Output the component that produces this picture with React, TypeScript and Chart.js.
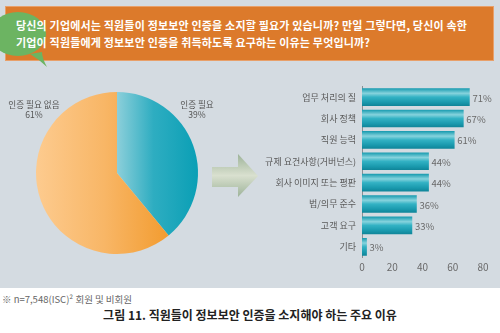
import React, { useEffect, useRef } from "react";
import { Chart, registerables } from "chart.js";
Chart.register(...registerables);

const questionLines = [
  "당신의 기업에서는 직원들이 정보보안 인증을 소지할 필요가 있습니까? 만일 그렇다면, 당신이 속한",
  "기업이 직원들에게 정보보안 인증을 취득하도록 요구하는 이유는 무엇입니까?",
];
const pieLabels = ["인증 필요", "인증 필요 없음"];
const pieValues = [39, 61];
const barCategories = [
  "업무 처리의 질",
  "회사 정책",
  "직원 능력",
  "규제 요건사항(거버넌스)",
  "회사 이미지 또는 평판",
  "법/의무 준수",
  "고객 요구",
  "기타",
];
const barValues = [71, 67, 61, 44, 44, 36, 33, 3];
const xTickMin = 0;
const xTickMax = 80;
const xTickStep = 20;
const footnote = "※ n=7,548(ISC)² 회원 및 비회원";
const caption = "그림 11. 직원들이 정보보안 인증을 소지해야 하는 주요 이유";

const FONT = '"Noto Sans CJK KR", "Noto Sans", sans-serif';
const BG = "#d4dbe1";

function fin(...v: number[]) {
  return v.every((x) => typeof x === "number" && isFinite(x));
}

function PieChart() {
  const ref = useRef<HTMLCanvasElement>(null);
  useEffect(() => {
    const canvas = ref.current!;
    const chart = new Chart(canvas, {
      type: "pie",
      data: {
        labels: pieLabels,
        datasets: [
          {
            data: pieValues,
            borderWidth: 0,
            backgroundColor: (c: any) => {
              const ch = c.chart;
              const area = ch.chartArea;
              if (!area || !fin(area.left, area.right) || area.right <= area.left)
                return c.dataIndex === 0 ? "#2aa9bd" : "#f6ad55";
              const cx = (area.left + area.right) / 2;
              if (c.dataIndex === 0) {
                const g = ch.ctx.createLinearGradient(cx, 0, area.right, 0);
                g.addColorStop(0, "#8ccfda");
                g.addColorStop(0.45, "#2eadc1");
                g.addColorStop(1, "#0a9fb5");
                return g;
              }
              const g = ch.ctx.createLinearGradient(area.left, 0, area.right - 25, 0);
              g.addColorStop(0, "#fdcb8f");
              g.addColorStop(0.5, "#f8b666");
              g.addColorStop(1, "#f29a2c");
              return g;
            },
          },
        ],
      },
      options: {
        animation: false,
        responsive: false,
        events: [],
        layout: { padding: { left: 36, top: 22, right: 52, bottom: 26 } },
        plugins: { legend: { display: false }, tooltip: { enabled: false } },
      },
    });
    return () => chart.destroy();
  }, []);
  return (
    <canvas
      ref={ref}
      width={250}
      height={210}
      style={{ position: "absolute", left: 0, top: 70, width: 250, height: 210 }}
    />
  );
}

const valueLabelPlugin = {
  id: "valueLabels",
  afterDatasetsDraw(chart: any) {
    const ctx = chart.ctx;
    const meta = chart.getDatasetMeta(0);
    ctx.save();
    ctx.font = `9.5px ${FONT}`;
    ctx.fillStyle = "#6a6a6a";
    ctx.textAlign = "left";
    ctx.textBaseline = "middle";
    meta.data.forEach((bar: any, i: number) => {
      ctx.fillText(`${barValues[i]}%`, bar.x + 3, bar.y + 1);
    });
    ctx.restore();
  },
};

function BarChart() {
  const ref = useRef<HTMLCanvasElement>(null);
  useEffect(() => {
    const canvas = ref.current!;
    const chart = new Chart(canvas, {
      type: "bar",
      data: {
        labels: barCategories,
        datasets: [
          {
            data: barValues,
            borderWidth: 0,
            barThickness: 17,
            backgroundColor: (c: any) => {
              const ch = c.chart;
              const y = ch.scales && ch.scales.y;
              if (!y || c.dataIndex === undefined) return "#2aa9bb";
              const py = y.getPixelForValue(c.dataIndex);
              if (!fin(py)) return "#2aa9bb";
              const g = ch.ctx.createLinearGradient(0, py - 8.5, 0, py + 8.5);
              g.addColorStop(0, "#1c9db1");
              g.addColorStop(0.28, "#86d3dd");
              g.addColorStop(0.5, "#33b2c4");
              g.addColorStop(0.8, "#1a9aae");
              g.addColorStop(1, "#10869a");
              return g;
            },
          },
        ],
      },
      options: {
        animation: false,
        responsive: false,
        events: [],
        indexAxis: "y",
        layout: { padding: { top: 3, right: 17, left: 0, bottom: 0 } },
        plugins: { legend: { display: false }, tooltip: { enabled: false } },
        scales: {
          x: {
            min: xTickMin,
            max: xTickMax,
            ticks: {
              stepSize: xTickStep,
              padding: 4,
              color: "#6a6a6a",
              font: { family: FONT, size: 10 },
            },
            grid: { display: false, drawTicks: false },
            border: { display: false },
            afterFit: (s: any) => {
              s.height = 22.5;
            },
          },
          y: {
            ticks: {
              padding: 6,
              color: "#5a5a5a",
              font: { family: FONT, size: 9 },
            },
            grid: { display: false, drawTicks: false },
            border: { display: true, color: "#8a8f94", width: 1 },
            afterFit: (s: any) => {
              s.width = 112;
            },
          },
        },
      },
      plugins: [valueLabelPlugin],
    });
    return () => chart.destroy();
  }, []);
  return (
    <canvas
      ref={ref}
      width={250}
      height={205}
      style={{ position: "absolute", left: 250, top: 75, width: 250, height: 205 }}
    />
  );
}

export default function App() {
  return (
    <div
      style={{
        position: "fixed",
        left: 0,
        top: 0,
        width: 500,
        height: 333,
        background: "#ffffff",
        overflow: "hidden",
        fontFamily: FONT,
      }}
    >
      <div style={{ position: "absolute", left: 0, top: 0, width: 500, height: 288, background: BG }} />
      <div
        style={{
          position: "absolute",
          left: 5,
          top: 6,
          width: 487,
          height: 53,
          background: "#dc7a2b",
          border: "1px solid #e8a06a",
        }}
      />
      <svg
        width={80}
        height={80}
        style={{ position: "absolute", left: 0, top: 0 }}
      >
        <path
          d="M 30 54 Q 40 60 47 67 Q 42 58 42 52 Z"
          fill="#6cb462"
        />
        <ellipse cx={18} cy={34} rx={28} ry={22} fill="#6cb462" />
      </svg>
      <div
        style={{
          position: "absolute",
          left: 16,
          top: 17,
          color: "#ffffff",
          fontSize: 11,
          fontWeight: 700,
          letterSpacing: "0.18px",
          lineHeight: "16.7px",
          whiteSpace: "nowrap",
        }}
      >
        {questionLines.map((l, i) => (
          <div key={i}>{l}</div>
        ))}
      </div>
      <PieChart />
      <div
        style={{
          position: "absolute",
          left: 4,
          top: 99,
          width: 60,
          textAlign: "center",
          fontSize: 8.6,
          lineHeight: "10px",
          color: "#555",
        }}
      >
        <div>{pieLabels[1]}</div>
        <div>{pieValues[1]}%</div>
      </div>
      <div
        style={{
          position: "absolute",
          left: 172,
          top: 99,
          width: 50,
          textAlign: "center",
          fontSize: 8.6,
          lineHeight: "10px",
          color: "#555",
        }}
      >
        <div>{pieLabels[0]}</div>
        <div>{pieValues[0]}%</div>
      </div>
      <svg width={60} height={60} style={{ position: "absolute", left: 205, top: 145 }}>
        <defs>
          <linearGradient id="arrowGrad" x1="0" y1="0" x2="0" y2="1">
            <stop offset="0" stopColor="#9db399" />
            <stop offset="0.5" stopColor="#d9e0cf" />
            <stop offset="1" stopColor="#9db399" />
          </linearGradient>
        </defs>
        <polygon
          points="7,22 33,22 33,9 53,31 33,52 33,42 7,42"
          fill="url(#arrowGrad)"
        />
      </svg>
      <BarChart />
      <div
        style={{
          position: "absolute",
          left: 2,
          top: 292,
          fontSize: 9.5,
          color: "#666",
          whiteSpace: "nowrap",
        }}
      >
        {footnote}
      </div>
      <div
        style={{
          position: "absolute",
          left: 0,
          top: 306,
          width: 500,
          textAlign: "center",
          fontSize: 12,
          fontWeight: 700,
          color: "#222",
          whiteSpace: "nowrap",
        }}
      >
        {caption}
      </div>
    </div>
  );
}
